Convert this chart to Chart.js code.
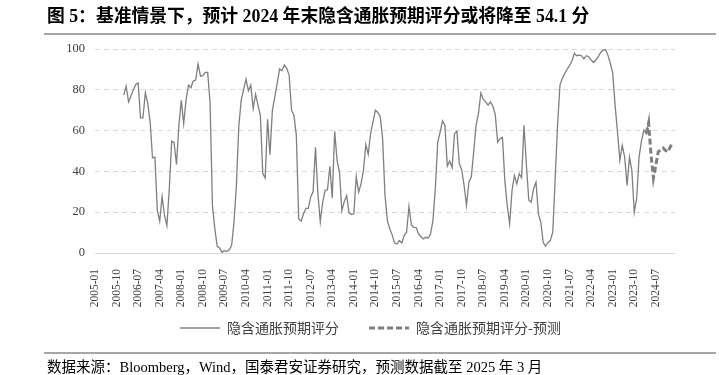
<!DOCTYPE html>
<html lang="zh-CN">
<head>
<meta charset="utf-8">
<title>隐含通胀预期评分</title>
<script src="https://cdn.jsdelivr.net/npm/chart.js@4.4.1/dist/chart.umd.min.js"></script>
<style>
  html, body { margin: 0; padding: 0; background: #fff; }
  #wrap { position: relative; width: 719px; height: 375px; overflow: hidden; }
  #chart { position: absolute; left: 0; top: 0; }
  .cap { position: absolute; left: 47px; white-space: nowrap; color: #000;
         font-family: "Liberation Serif", "Noto Sans CJK SC", serif; }
  #title { top: 6px; font-size: 17.8px; font-weight: bold; line-height: 20px; }
  #source { top: 358px; font-size: 14.5px; line-height: 18px; }
  .rule { position: absolute; left: 44px; width: 672px; height: 2px; background: #a6a6a6; }
</style>
</head>
<body>
<div id="wrap">
  <canvas id="chart" width="719" height="375"></canvas>
  <div class="cap" id="title">图 5：基准情景下，预计 2024 年末隐含通胀预期评分或将降至 54.1 分</div>
  <div class="rule" style="top:33px"></div>
  <div class="rule" style="top:352px"></div>
  <div class="cap" id="source">数据来源：Bloomberg，Wind，国泰君安证券研究，预测数据截至 2025 年 3 月</div>
</div>
<script>
// axe mensuel 2005-01 .. 2025-03
const FIRST_YEAR = 2005;
const MONTH_COUNT = 243;

const tickLabels = [
    '2005-01', '2005-10', '2006-07', '2007-04', '2008-01', '2008-10', '2009-07',
    '2010-04', '2011-01', '2011-10', '2012-07', '2013-04', '2014-01', '2014-10',
    '2015-07', '2016-04', '2017-01', '2017-10', '2018-07', '2019-04', '2020-01',
    '2020-10', '2021-07', '2022-04', '2023-01', '2023-10', '2024-07',
];

// 隐含通胀预期评分 (mensuel, à partir de 2006-01)
const actualStart = '2006-01';
const actual = [
    77.4, 81.8, 74.1, 77, 80, 82.6, 83.4, 66.2, 66.2, 78.5, 73.3, 64.3,
    46.6, 47, 20.8, 15.6, 27.7, 18.4, 13.4, 31.5, 54.8, 54.1, 43.4, 62.6,
    74.9, 63.4, 74.9, 82.3, 81, 84.3, 84.8, 92.6, 86.7, 86.9, 88.5, 88.5,
    74.1, 23.3, 11.8, 3.3, 2.5, 0.3, 1.1, 0.7, 1.6, 3.6, 15.1, 33.1,
    62, 75, 80, 85.2, 79.5, 82.3, 70.8, 77.9, 72.5, 67.5, 38.9, 36.7,
    65.6, 48.2, 69.8, 76.4, 83, 90.2, 89.3, 92.1, 90.5, 87.2, 70, 67.5,
    57.7, 16.7, 15.6, 19.2, 21.9, 21.9, 27.4, 30, 51.8, 29, 15.2, 25,
    30.7, 31, 42.5, 26.9, 59.7, 45.4, 39.7, 20.8, 25.2, 28.2, 19.7, 18.9,
    19.2, 37.5, 29.8, 33.9, 40.5, 53.1, 48.4, 58.7, 64.3, 70, 68.9, 66.9,
    56.2, 28.2, 15.9, 11.8, 8.9, 4.9, 4.4, 6.1, 4.9, 8.5, 10.2, 22.8,
    13.8, 12.6, 12.5, 9.3, 8, 6.9, 7.7, 7.4, 9.3, 15.9, 31.5, 54.4,
    59.3, 64.8, 62.6, 42.6, 45.1, 41.8, 58.5, 59.7, 43.8, 40.8, 33.1, 23.3,
    34.8, 37.2, 49.5, 62.6, 68.4, 78.5, 75.4, 74.1, 72.5, 74.1, 72, 67.9,
    54.4, 56.1, 56.6, 35.6, 23.3, 14.3, 30.7, 38, 33.9, 38.9, 36.9, 62.6,
    43, 26, 24.9, 31.5, 34.8, 19.2, 15.1, 5.2, 3.3, 5.2, 6.2, 10.2,
    36.4, 62.6, 82.3, 85.6, 88, 90.2, 91.8, 94.1, 97.9, 96.7, 97, 96.7,
    95.1, 96.7, 96.2, 94.6, 93.4, 94.6, 96.2, 98.4, 99.3, 99.8, 97, 93,
    88.5, 72.5, 59.3, 45.4, 52.8, 47, 33.1, 47, 40.5, 20, 26.6, 47,
    54.8, 60.2, 58.5, 63.8,
];

// 隐含通胀预期评分-预测
const forecastStart = '2024-03';
const forecast = [58.5, 63.8, 47.9, 36.7, 43, 49.5, 50.8, 51.5, 50.3, 49.5, 52, 54.1];

const GREY      = '#7f7f7f';
const GRID      = '#d9d9d9';
const TICK_TEXT = '#404040';
const SERIF     = '"Liberation Serif", "Times New Roman", serif';
const LEGEND_LIFT = 18;   // remonte la légende sous les dates pivotées

const months = [];
for (let i = 0; i < MONTH_COUNT; i++) {
    const y = FIRST_YEAR + Math.floor(i / 12);
    const m = (i % 12) + 1;
    months.push(y + '-' + String(m).padStart(2, '0'));
}

/**
 * Associe une série à l'axe des mois à partir de son premier mois.
 */
function toPoints(start, values) {
    const offset = months.indexOf(start);
    return values.map((v, i) => ({ x: months[offset + i], y: v }));
}

const legendLift = {
    id: 'legendLift',
    afterLayout(chart) {
        const lg = chart.legend;
        if (!lg) return;
        lg.top -= LEGEND_LIFT;
        lg.bottom -= LEGEND_LIFT;
    },
};

const ctx = document.getElementById('chart').getContext('2d');

new Chart(ctx, {
    type: 'line',
    data: {
        labels: months,
        datasets: [
            {
                label: '隐含通胀预期评分',
                data: toPoints(actualStart, actual),
                borderColor: GREY,
                backgroundColor: GREY,
                borderWidth: 1.3,
                pointRadius: 0,
                tension: 0,
            },
            {
                label: '隐含通胀预期评分-预测',
                data: toPoints(forecastStart, forecast),
                borderColor: GREY,
                backgroundColor: GREY,
                borderWidth: 3,
                borderDash: [6, 3],
                pointRadius: 0,
                tension: 0,
            },
        ],
    },
    plugins: [legendLift],
    options: {
        responsive: false,
        animation: false,
        layout: { padding: { left: 66, right: 44, top: 49, bottom: 12 } },
        plugins: {
            tooltip: { enabled: false },
            legend: {
                position: 'bottom',
                labels: {
                    usePointStyle: true,
                    pointStyle: 'line',
                    pointStyleWidth: 40,
                    padding: 30,
                    color: '#404040',
                    font: { size: 14, family: '"Noto Sans CJK SC", sans-serif' },
                    // le style « point » ne reprend pas le pointillé : on le remet
                    generateLabels(chart) {
                        const items = Chart.defaults.plugins.legend.labels.generateLabels(chart);
                        items.forEach((item) => {
                            const ds = chart.data.datasets[item.datasetIndex];
                            item.lineDash = ds.borderDash || [];
                            item.lineWidth = ds.borderWidth;
                            item.strokeStyle = ds.borderColor;
                        });
                        return items;
                    },
                },
            },
        },
        scales: {
            x: {
                grid: { display: false },
                border: { display: true, color: GRID, width: 1 },
                ticks: {
                    autoSkip: false,
                    minRotation: 90,
                    maxRotation: 90,
                    padding: 8,
                    color: TICK_TEXT,
                    font: { size: 11.5, family: SERIF },
                    callback: (v, i) => (tickLabels.includes(months[i]) ? months[i] : ''),
                },
                afterFit(scale) { scale.height = 56; },
            },
            y: {
                min: 0,
                max: 100,
                grid: { color: GRID, drawTicks: false },
                border: { display: false, dash: [5, 4] },
                ticks: {
                    stepSize: 20,
                    padding: 10,
                    color: TICK_TEXT,
                    font: { size: 12.5, family: SERIF },
                },
                afterFit(scale) { scale.width = 29; },
            },
        },
    },
});
</script>
</body>
</html>
